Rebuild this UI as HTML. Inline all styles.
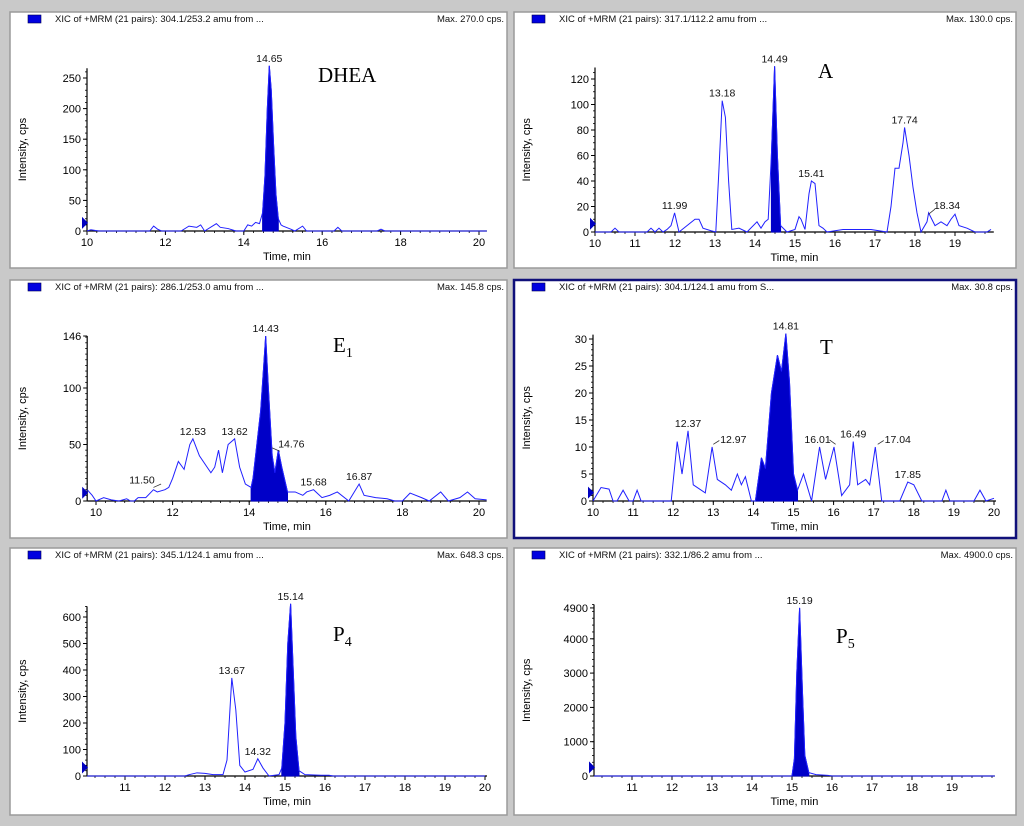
<!DOCTYPE html>
<html><head><meta charset="utf-8">
<style>
html,body{margin:0;padding:0;background:#c9c9c9;}
svg{display:block;font-family:"Liberation Sans",Arial,sans-serif;}
</style></head>
<body>
<svg id="chart" width="1024" height="826" viewBox="0 0 1024 826"></svg>
<script>
// ---------- data ----------
const dheaTimes=[10,10.1,10.3,11.6,11.7,11.8,11.9,12.4,12.6,12.8,12.9,13.0,13.3,13.4,13.6,13.8,14.0,14.1,14.2,14.3,14.4,14.48,14.54,14.6,14.65,14.7,14.76,14.82,14.88,14.95,15.0,15.2,15.3,15.5,15.6,16.3,16.4,16.5,17.4,17.5,17.6,20.2];
const dheaValues=[0,2,0,0,8,3,0,0,8,6,10,0,12,6,4,0,0,10,8,14,12,30,90,200,270,230,140,60,20,10,8,3,0,8,0,0,6,0,0,3,0,0];
const aTimes=[10,10.4,10.5,10.6,11.3,11.4,11.5,11.6,11.7,11.8,11.9,11.99,12.1,12.3,12.5,12.6,12.7,12.9,13.02,13.1,13.18,13.26,13.34,13.42,13.6,13.8,14.05,14.15,14.25,14.33,14.41,14.49,14.56,14.64,14.8,15.0,15.1,15.15,15.25,15.35,15.41,15.5,15.6,15.7,15.8,16.2,16.5,16.9,17.3,17.4,17.5,17.6,17.7,17.74,17.85,17.95,18.05,18.15,18.3,18.34,18.5,18.65,18.8,18.9,19.0,19.1,19.3,19.5,19.8,19.9];
const aValues=[0,0,3,0,0,3,0,3,0,2,5,15,0,5,10,10,3,1,0,50,103,90,40,2,3,0,8,3,8,10,60,130,60,5,0,2,12,10,2,30,40,38,5,3,0,2,2,2,0,20,50,50,70,82,60,35,15,0,8,15,5,8,5,10,14,5,3,0,0,2];
const e1Times=[9.77,9.9,10.0,10.2,10.4,10.6,10.8,10.9,11.0,11.1,11.3,11.5,11.6,11.8,11.9,12.0,12.15,12.3,12.45,12.53,12.7,12.9,13.0,13.1,13.2,13.3,13.45,13.62,13.75,13.9,14.05,14.1,14.2,14.3,14.38,14.43,14.5,14.6,14.67,14.76,14.85,15.0,15.2,15.4,15.5,15.68,15.9,16.1,16.3,16.6,16.87,17.0,17.3,17.6,17.8,18.0,18.2,18.5,18.7,19.0,19.2,19.5,19.7,19.9,20.2];
const e1Values=[10,5,0,3,1,0,2,0,0,3,3,10,8,10,12,20,35,28,50,55,40,30,25,30,45,25,50,55,30,15,12,20,50,80,120,146,100,40,25,45,30,8,8,5,8,10,3,5,8,0,15,5,3,2,0,0,7,3,0,8,0,3,8,2,1];
const tTimes=[10,10.2,10.4,10.5,10.6,10.75,10.9,11.0,11.1,11.2,11.95,12.1,12.22,12.37,12.5,12.8,12.97,13.1,13.3,13.45,13.6,13.7,13.8,13.95,14.05,14.2,14.3,14.45,14.6,14.7,14.81,14.9,15.0,15.1,15.25,15.45,15.65,15.8,16.01,16.2,16.4,16.49,16.6,16.8,16.9,17.04,17.2,17.65,17.85,18.0,18.2,18.7,18.8,18.9,19.5,19.65,19.8,20];
const tValues=[0,2.5,2.2,0,0,2,0,0,2,0,0,11,5,13,3,1.5,10,4,3,2,5,3,4.5,0,0,8,6,20,27,24,31,22,5,2,5,0,10,4,10,1,3,11,3,4,3,10,0,0,3.5,3,0,0,2,0,0,2,0,0.5];
const p4Times=[10.05,12.5,12.6,12.8,13.0,13.2,13.45,13.55,13.67,13.77,13.87,14.0,14.2,14.32,14.45,14.6,14.85,14.92,15.0,15.07,15.14,15.2,15.27,15.35,15.5,15.9,16.1,16.2,17.0,17.4,20];
const p4Values=[0,0,5,12,10,5,5,60,370,250,40,15,25,65,30,0,5,30,200,500,650,420,150,20,5,3,3,0,0,0,0];
const p5Times=[10.05,15.0,15.06,15.12,15.19,15.26,15.32,15.42,15.6,15.9,16.0,20.07];
const p5Values=[0,0,500,3000,4900,2500,600,100,40,20,0,0];

const dheaPeakLabels=["14.65"];const dheaPeakTimes=[14.65];const dheaPeakValues=[270];
const aPeakLabels=["11.99","13.18","14.49","15.41","17.74","18.34"];const aPeakTimes=[11.99,13.18,14.49,15.41,17.74,18.8];const aPeakValues=[15,103,130,40,82,15];
const e1PeakLabels=["11.50","12.53","13.62","14.43","14.76","15.68","16.87"];const e1PeakTimes=[11.2,12.53,13.62,14.43,15.1,15.68,16.87];const e1PeakValues=[12,55,55,146,44,10,15];
const tPeakLabels=["12.37","12.97","14.81","16.01","16.49","17.04","17.85"];const tPeakTimes=[12.37,13.5,14.81,15.6,16.49,17.6,17.85];const tPeakValues=[13,10,31,10,11,10,3.5];
const p4PeakLabels=["13.67","14.32","15.14"];const p4PeakTimes=[13.67,14.32,15.14];const p4PeakValues=[370,65,650];
const p5PeakLabels=["15.19"];const p5PeakTimes=[15.19];const p5PeakValues=[4900];

const dheaTicks=[0,50,100,150,200,250];const aTicks=[0,20,40,60,80,100,120];const e1Ticks=[0,50,100,146];
const tTicks=[0,5,10,15,20,25,30];const p4Ticks=[0,100,200,300,400,500,600];const p5Ticks=[0,1000,2000,3000,4000,4900];
const xTicksEven=[10,12,14,16,18,20];const xTicksAll=[10,11,12,13,14,15,16,17,18,19,20];const xTicksA=[10,11,12,13,14,15,16,17,18,19];
const xTicksP4=[11,12,13,14,15,16,17,18,19,20];const xTicksP5=[11,12,13,14,15,16,17,18,19];

// ---------- layout (pixels) ----------
const panels=[
 {id:'dhea',box:[10,12,497,256],t0:10,px0:87,sx:39.2,xmin:10,xmax:20.2,y0:231,sy:0.612,ymax:266,ystep:10,fill:[14.48,14.88],times:dheaTimes,vals:dheaValues,yt:dheaTicks,xt:xTicksEven,pl:dheaPeakLabels,pt:dheaPeakTimes,pv:dheaPeakValues,title:"XIC of +MRM (21 pairs): 304.1/253.2 amu from ...",max:"Max. 270.0 cps.",name:"DHEA",sub:"",nx:318,ny:82,lead:[]},
 {id:'a',box:[514,12,502,256],t0:10,px0:595,sx:40,xmin:10,xmax:19.97,y0:232,sy:1.275,ymax:129,ystep:5,fill:[14.41,14.64],times:aTimes,vals:aValues,yt:aTicks,xt:xTicksA,pl:aPeakLabels,pt:aPeakTimes,pv:aPeakValues,title:"XIC of +MRM (21 pairs): 317.1/112.2 amu from ...",max:"Max. 130.0 cps.",name:"A",sub:"",nx:818,ny:78,lead:[[18.34,14,18.5,18]]},
 {id:'e1',box:[10,280,497,258],t0:10,px0:96,sx:38.3,xmin:9.77,xmax:20.2,y0:501,sy:1.13,ymax:146,ystep:5,fill:[14.05,15.0],times:e1Times,vals:e1Values,yt:e1Ticks,xt:xTicksEven,pl:e1PeakLabels,pt:e1PeakTimes,pv:e1PeakValues,title:"XIC of +MRM (21 pairs): 286.1/253.0 amu from ...",max:"Max. 145.8 cps.",name:"E",sub:"1",nx:333,ny:352,lead:[[11.5,12,11.7,15],[14.8,44,14.6,47]]},
 {id:'t',box:[514,280,502,258],t0:10,px0:593,sx:40.1,xmin:10,xmax:20.05,y0:501,sy:5.4,ymax:30.8,ystep:1,fill:[14.05,15.12],times:tTimes,vals:tValues,yt:tTicks,xt:xTicksAll,pl:tPeakLabels,pt:tPeakTimes,pv:tPeakValues,title:"XIC of +MRM (21 pairs): 304.1/124.1 amu from S...",max:"Max. 30.8 cps.",name:"T",sub:"",nx:820,ny:354,blue:true,lead:[[13.0,10.5,13.15,11.2],[15.9,11.3,16.05,10.5],[17.1,10.5,17.25,11.2]]},
 {id:'p4',box:[10,548,497,267],t0:11,px0:125,sx:40,xmin:10.05,xmax:20.05,y0:776,sy:0.265,ymax:640,ystep:20,fill:[14.92,15.35],times:p4Times,vals:p4Values,yt:p4Ticks,xt:xTicksP4,pl:p4PeakLabels,pt:p4PeakTimes,pv:p4PeakValues,title:"XIC of +MRM (21 pairs): 345.1/124.1 amu from ...",max:"Max. 648.3 cps.",name:"P",sub:"4",nx:333,ny:641,lead:[]},
 {id:'p5',box:[514,548,502,267],t0:11,px0:632,sx:40,xmin:10.05,xmax:20.07,y0:776,sy:0.0343,ymax:5000,ystep:200,fill:[15.0,15.45],times:p5Times,vals:p5Values,yt:p5Ticks,xt:xTicksP5,pl:p5PeakLabels,pt:p5PeakTimes,pv:p5PeakValues,title:"XIC of +MRM (21 pairs): 332.1/86.2 amu from ...",max:"Max. 4900.0 cps.",name:"P",sub:"5",nx:836,ny:643,lead:[]}
];
const NS='http://www.w3.org/2000/svg';
const svg=document.getElementById('chart');
function el(tag,attrs,parent,text){const e=document.createElementNS(NS,tag);for(const k in attrs)e.setAttribute(k,attrs[k]);if(text!==undefined)e.textContent=text;(parent||svg).appendChild(e);return e;}

panels.forEach(p=>{
 const X=t=>p.px0+(t-p.t0)*p.sx;
 const Y=v=>p.y0-v*p.sy;
 const g=el('g',{});
 
 
 const [bx,by,bw,bh]=p.box;
 const bg=el('rect',{x:bx,y:by,width:bw,height:bh,fill:'#fff',stroke:p.blue?'#10107a':'#9a9a9a','stroke-width':p.blue?2.5:1.5},g);
 
 
 const ic=el('rect',{x:bx+18,y:by+3,width:13,height:8,fill:'#0000e0',stroke:'#000050','stroke-width':0.6},g);
 
 
 const tt=el('text',{x:bx+45,y:by+10,'font-size':9.5,fill:'#111'},g,p.title);
 
 
 const mx=el('text',{x:bx+bw-3,y:by+10,'font-size':9.5,fill:'#111','text-anchor':'end'},g,p.max);
 
 
 const xl=X(p.xmin),xr=X(p.xmax),yt=Y(p.ymax);
 // minor ticks
 for(let t=Math.ceil(p.xmin*4)/4;t<=p.xmax;t+=0.25){el('line',{x1:X(t),y1:p.y0,x2:X(t),y2:p.y0+2,stroke:'#000','stroke-width':0.8},g);}
 for(let v=0;v<=p.ymax;v+=p.ystep){el('line',{x1:xl-2,y1:Y(v),x2:xl,y2:Y(v),stroke:'#000','stroke-width':0.8},g);}
 const ax=el('line',{x1:xl,y1:p.y0,x2:xr,y2:p.y0,stroke:'#000','stroke-width':1.2},g);
 
 
 const ay=el('line',{x1:xl,y1:p.y0,x2:xl,y2:yt,stroke:'#000','stroke-width':1.2},g);
 
 
 p.xt.forEach(t=>{
  el('line',{x1:X(t),y1:p.y0,x2:X(t),y2:p.y0+4,stroke:'#000'},g);
  const lb=el('text',{x:X(t),y:p.y0+15,'font-size':11,'text-anchor':'middle',fill:'#000'},g,String(t));
  
  
 });
 p.yt.forEach(v=>{
  el('line',{x1:xl-4,y1:Y(v),x2:xl,y2:Y(v),stroke:'#000'},g);
  const lb=el('text',{x:xl-6,y:Y(v)+4,'font-size':11,'text-anchor':'end',fill:'#000'},g,String(v));
  
  
 });
 const xtt=el('text',{x:(xl+xr)/2,y:p.y0+29,'font-size':11,'text-anchor':'middle',fill:'#000'},g,'Time, min');
 
 
 const cy=(p.y0+yt)/2;
 const ytt=el('text',{x:bx+16,y:cy,'font-size':11,'text-anchor':'middle',fill:'#000',transform:`rotate(-90 ${bx+16} ${cy})`},g,'Intensity, cps');
 
 
 const mk=el('polygon',{points:`${xl-5},${Y(p.ymax*0.05)-6} ${xl+1},${Y(p.ymax*0.05)} ${xl-5},${Y(p.ymax*0.05)+6}`,fill:'#0000c0'},g);
 
 
 const fp=[];
 p.times.forEach((t,i)=>{if(t>=p.fill[0]&&t<=p.fill[1])fp.push([X(t),Y(p.vals[i])]);});
 if(fp.length){
  const pts=[[fp[0][0],p.y0],...fp,[fp[fp.length-1][0],p.y0]].map(a=>a.join(',')).join(' ');
  const pf=el('polygon',{points:pts,fill:'#0000c8',stroke:'#0000c8','stroke-width':1},g);
  
  
 }
 const line=el('polyline',{points:p.times.map((t,i)=>X(t)+','+Y(p.vals[i])).join(' '),fill:'none',stroke:'#2020ff','stroke-width':1},g);
 
 
 p.lead.forEach(l=>{
  const ll=el('line',{x1:X(l[0]),y1:Y(l[1]),x2:X(l[2]),y2:Y(l[3]),stroke:'#333','stroke-width':0.8},g);
  
  
 });
 p.pl.forEach((s,i)=>{
  const lb=el('text',{x:X(p.pt[i]),y:Y(p.pv[i])-4,'font-size':10.5,'text-anchor':'middle',fill:'#111'},g,s);
  
  
 });
 const cn=el('text',{x:p.nx,y:p.ny,'font-size':21,fill:'#000','font-family':'"Liberation Serif",serif'},g);
 
 
 cn.appendChild(document.createTextNode(p.name));
 if(p.sub){el('tspan',{'font-size':14,dy:5},cn,p.sub);}
});
</script>
</body></html>
